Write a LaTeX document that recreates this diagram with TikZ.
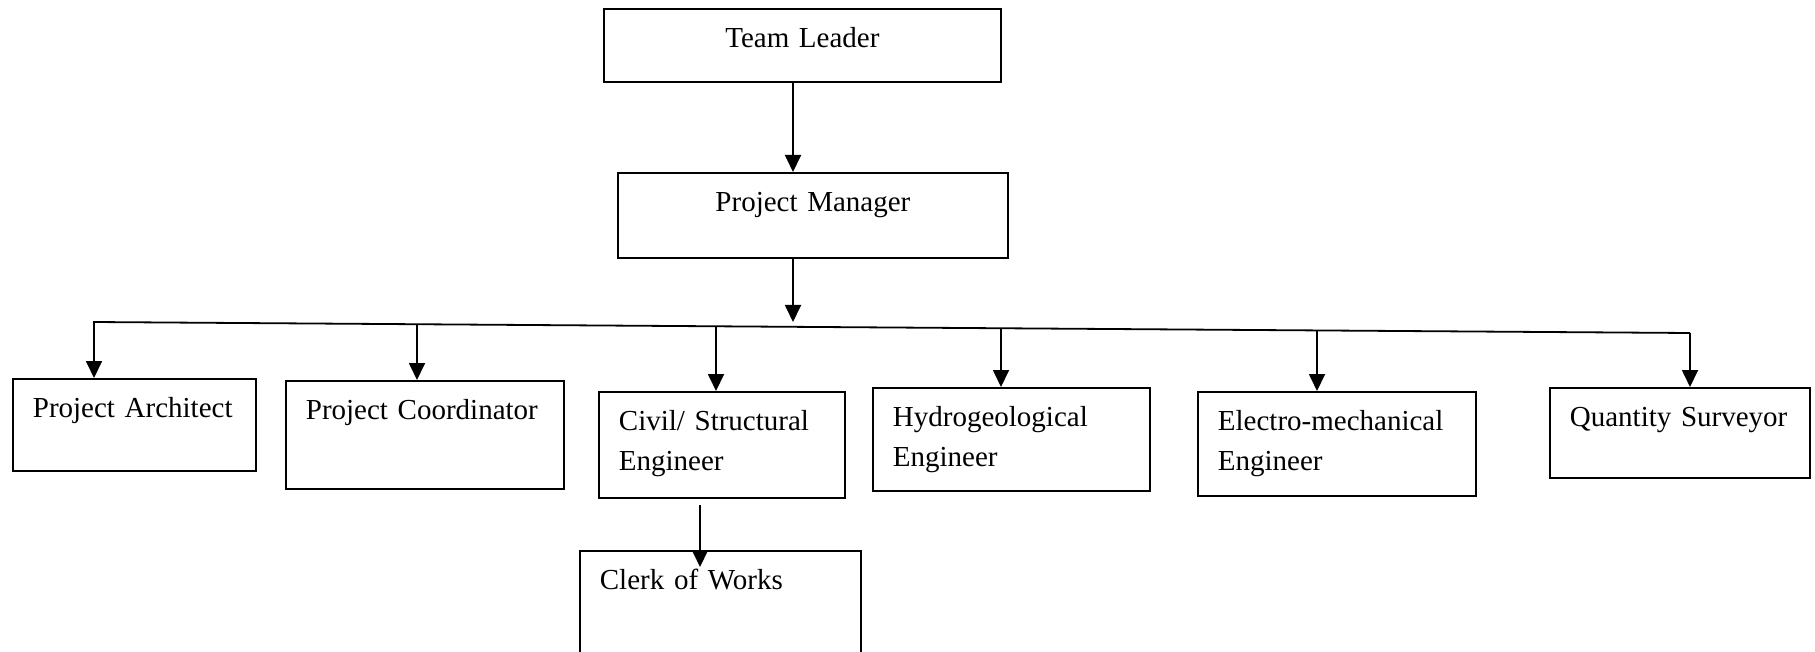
\documentclass[tikz,border=0pt]{standalone}
\usepackage{fontspec}
\setmainfont{Liberation Serif}
\usetikzlibrary{positioning,arrows.meta}
\newcommand*{\role}[6][left]{%
  \node [ role, align=#1, minimum width=#4, text width=#4-20pt,
          minimum height=#5, text depth=#5-19.5pt ] (#2) at (#3) {#6};
}

\begin{document}
\begin{tikzpicture}[x=0.5pt, y=-0.5pt,
    >={Triangle[width=8pt,length=8.5pt]},
    role/.style = {draw, line width=0.9pt, anchor=north west,
                   inner xsep=10pt, inner ysep=0pt, text height=19.5pt,
                   font=\fontsize{14.5}{20}\selectfont},
    link/.style = {->, line width=0.9pt},
    bar/.style  = {line width=0.9pt}]
  \useasboundingbox (0,0) rectangle (1815,652);
  \clip (0,0) rectangle (1815,652);

  \role[center]{lead}{603,8}{198.5pt}{36.5pt}{Team Leader}
  \role[center]{pm}{617,172}{195pt}{42.5pt}{Project Manager}
  \role{arch}{12,378}{121.5pt}{46pt}{Project Architect}
  \role{coord}{285,380}{139pt}{54pt}{Project Coordinator}
  \role{civil}{598,391}{123pt}{53pt}{Civil/ Structural\\Engineer}
  \role{hydro}{872,387}{138.5pt}{51.5pt}{Hydrogeological\\Engineer}
  \role{electro}{1197,391}{139pt}{52pt}{Electro-mechanical\\Engineer}
  \role{qs}{1549,387}{130pt}{45pt}{Quantity Surveyor}
  \role{clerk}{579,550}{140.5pt}{60pt}{Clerk of Works}

  \coordinate (drop) at (793,0);
  \coordinate (busL) at (93,322);
  \coordinate (busR) at (1690,333);
  \coordinate (tArch) at (94,322);
  \coordinate (tCoord) at (417,324);
  \coordinate (tCivil) at (716,326);
  \coordinate (tHydro) at (1001,328);
  \coordinate (tElectro) at (1317,330);
  \coordinate (tQs) at (1690,333);
  \coordinate (sub) at (700,505);

  \draw[link] (drop |- lead.south) -- (drop |- pm.north);
  \draw[link] (drop |- pm.south) -- (drop |- busL);
  \draw[bar] (busL) -- (busR);
  \draw[link] (tArch) -- (tArch |- arch.north);
  \draw[link] (tCoord) -- (tCoord |- coord.north);
  \draw[link] (tCivil) -- (tCivil |- civil.north);
  \draw[link] (tHydro) -- (tHydro |- hydro.north);
  \draw[link] (tElectro) -- (tElectro |- electro.north);
  \draw[link] (tQs) -- (tQs |- qs.north);
  \draw[link, shorten >=-8.5pt] (sub) -- (sub |- clerk.north);
\end{tikzpicture}
\end{document}
